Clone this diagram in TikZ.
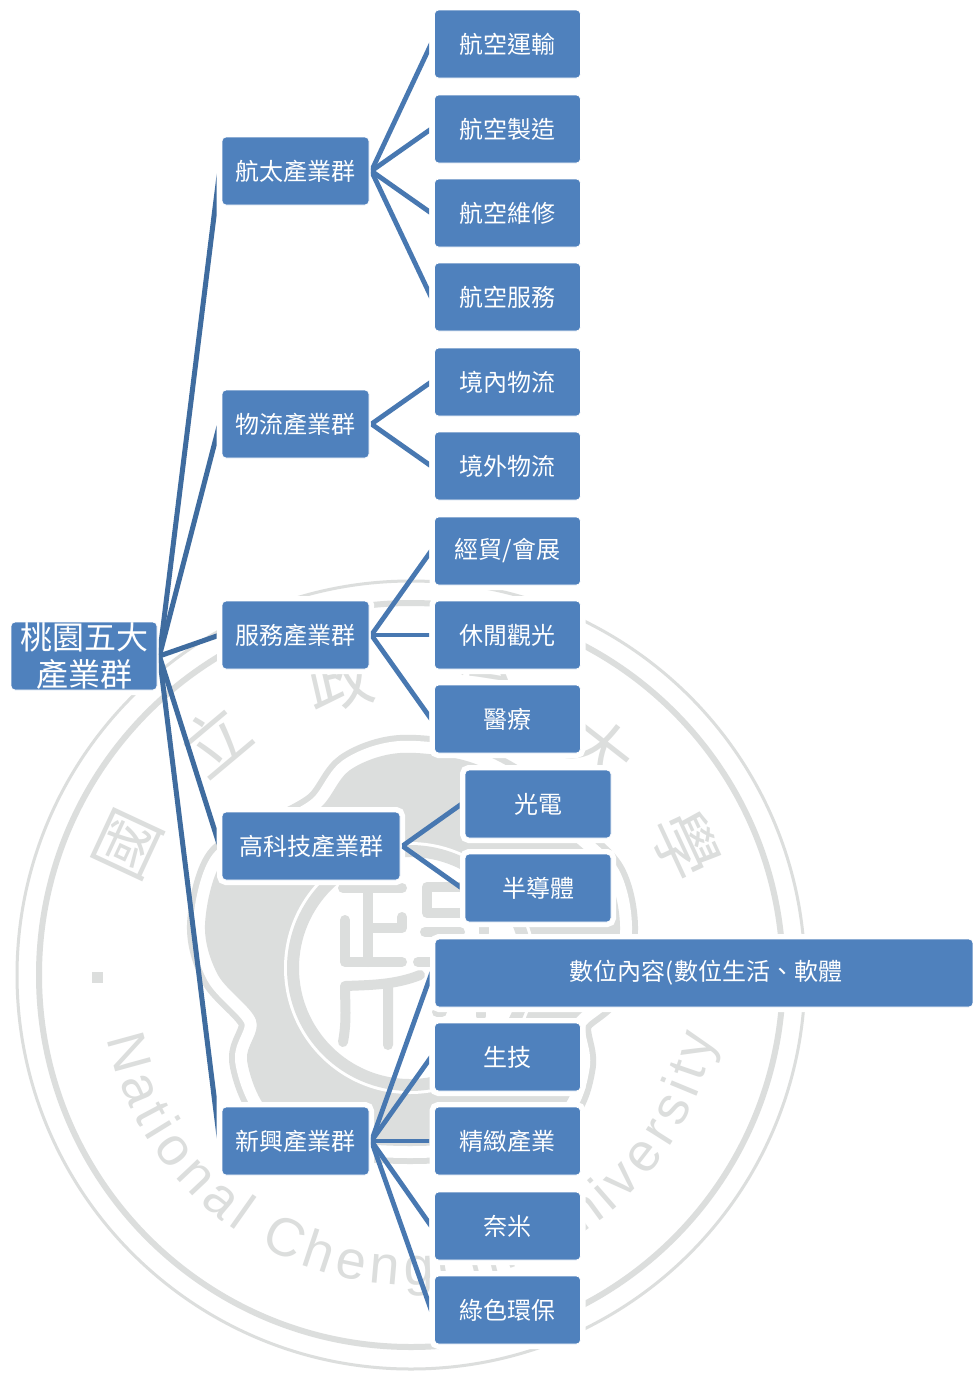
\documentclass[tikz,border=0pt]{standalone}
\usepackage{fontspec}
\usetikzlibrary{calc,decorations.text}
\setmainfont{Noto Sans CJK TC}
\newfontfamily\wmlatin{Liberation Sans}
\definecolor{boxblue}{HTML}{4F81BD}
\definecolor{rootlink}{HTML}{3F6C9F}
\definecolor{leaflink}{HTML}{4878B1}
\definecolor{wm}{HTML}{DCDEDD}
\tikzset{
  box/.style={rectangle,rounded corners=4pt,fill=boxblue,draw=white,line width=.8pt,
    preaction={draw=white,line width=10pt},text=white,inner sep=0pt,minimum height=68pt,
    align=center,font=\fontsize{24}{28}\selectfont},
  l1box/.style={box,minimum width=147pt},
  l2box/.style={box,minimum width=146pt},
  rootbox/.style={box,minimum width=146pt,font=\fontsize{32}{37}\selectfont},
  rootline/.style={draw=rootlink,line width=5pt},
  leafline/.style={draw=leaflink,line width=4.8pt},
  wmline/.style={draw=wm,line cap=round,line join=round,line width=10pt},
  wmchar/.style={text=wm,inner sep=0pt,font=\fontsize{66}{70}\selectfont}
}
% #1 style, #2 from, #3 to, #4 how far before the target's west side the line aims
\newcommand{\linkto}[4]{%
  \begin{scope}
    \clip ($(#2.east)+(1.5,-1400)$) rectangle ($(#3.west)+(-5,1400)$);
    \draw[#1,shorten >=-6pt] ($(#2.east)+(2,0)$) -- ($(#3.west)+(-#4,0)$);
  \end{scope}}
\begin{document}
\begin{tikzpicture}[x=1pt,y=-1pt]
\useasboundingbox (0,0) rectangle (973,1374);
\fill[white] (0,0) rectangle (973,1374);
% --- watermark seal ---
\draw[wm,line width=3pt] (411,975) circle[radius=394];
\draw[wm,line width=6pt] (411,975) circle[radius=372];
\node[wmchar,rotate=65] (wm1) at (128,845) {國};
\node[wmchar,rotate=40] (wm2) at (215,740) {立};
\node[wmchar,rotate=13] (wm3) at (340,680) {政};
\node[wmchar,rotate=-13] (wm4) at (480,680) {治};
\node[wmchar,rotate=-38] (wm5) at (600,750) {大};
\node[wmchar,rotate=-65] (wm6) at (686,845) {學};
\fill[wm] (92,972) rectangle (103,983);
\path[decorate,decoration={text along path,text align={fit to path},
   text={|\wmlatin\fontsize{54}{58}\selectfont\color{wm}|National Chengchi University}}]
   (411,975) ++(191.8:310 and -310) arc[start angle=191.8,end angle=348.5,radius=310,y radius=-310];
\def\blob{plot[smooth cycle,tension=0.55] coordinates {(400,753) (470,762) (530,795) (568,835) (608,875) (620,930) (606,990) (574,1022) (578,1065) (560,1110) (500,1138) (410,1146) (320,1138) (268,1110) (247,1060) (256,1020) (218,975) (205,925) (222,862) (272,835) (320,808) (350,770)}}
\draw[wm,line width=36pt,line join=round] \blob;
\draw[white,line width=24pt,line join=round] \blob;
\fill[wm] \blob;
\fill[white] (410,968) circle[radius=126];
\draw[wm,line width=12pt] (410,968) circle[radius=117];
\draw[wmline] (343,888) -- (402,888) (368,888) -- (368,962) (345,920) -- (345,962) -- (402,962)
  (402,917) -- (402,928) -- (370,928);
\draw[wmline] (343,1042) .. controls (347,1020) and (345,1005) .. (345,986) .. controls (370,985) and (395,985) .. (420,975)
  (388,985) -- (388,1045);
\draw[wmline] (460,887) -- (427,887) -- (427,913) -- (460,913) (425,932) -- (460,932) (418,962) -- (440,962)
  (484,925) -- (484,933) (437,1012) -- (442,1012) (481,1012) -- (481,1016);
% --- boxes ---
\node[rootbox] (root) at (84,656) {桃園五大\\產業群};
\node[l1box] (a) at (295.5,171) {航太產業群};
\node[l1box] (b) at (295.5,424) {物流產業群};
\node[l1box] (c) at (295.5,635) {服務產業群};
\node[box,minimum width=178pt] (d) at (311,846) {高科技產業群};
\node[l1box] (e) at (295.5,1141) {新興產業群};
\node[l2box] (a1) at (507.5,44) {航空運輸};
\node[l2box] (a2) at (507.5,129) {航空製造};
\node[l2box] (a3) at (507.5,213) {航空維修};
\node[l2box] (a4) at (507.5,297) {航空服務};
\node[l2box] (b1) at (507.5,382) {境內物流};
\node[l2box] (b2) at (507.5,466) {境外物流};
\node[l2box] (c1) at (507.5,551) {經貿/會展};
\node[l2box] (c2) at (507.5,635) {休閒觀光};
\node[l2box] (c3) at (507.5,719) {醫療};
\node[l2box] (d1) at (538,804) {光電};
\node[l2box] (d2) at (538,888) {半導體};
\node[box,minimum width=538pt] (e1) at (704,973) {\hspace*{4pt}數位內容(數位生活、軟體};
\node[l2box] (e2) at (507.5,1057) {生技};
\node[l2box] (e3) at (507.5,1141) {精緻產業};
\node[l2box] (e4) at (507.5,1226) {奈米};
\node[l2box] (e5) at (507.5,1310) {綠色環保};
% --- connectors ---
\linkto{rootline}{root}{a}{2}
\linkto{rootline}{root}{b}{2}
\linkto{rootline}{root}{c}{2}
\linkto{rootline}{root}{d}{2}
\linkto{rootline}{root}{e}{2}
\linkto{leafline}{a}{a1}{3}
\linkto{leafline}{a}{a2}{3}
\linkto{leafline}{a}{a3}{3}
\linkto{leafline}{a}{a4}{3}
\linkto{leafline}{b}{b1}{3}
\linkto{leafline}{b}{b2}{3}
\linkto{leafline}{c}{c1}{3}
\linkto{leafline}{c}{c2}{3}
\linkto{leafline}{c}{c3}{3}
\linkto{leafline}{d}{d1}{3}
\linkto{leafline}{d}{d2}{3}
\linkto{leafline}{e}{e1}{3}
\linkto{leafline}{e}{e2}{3}
\linkto{leafline}{e}{e3}{3}
\linkto{leafline}{e}{e4}{3}
\linkto{leafline}{e}{e5}{3}
\end{tikzpicture}
\end{document}
